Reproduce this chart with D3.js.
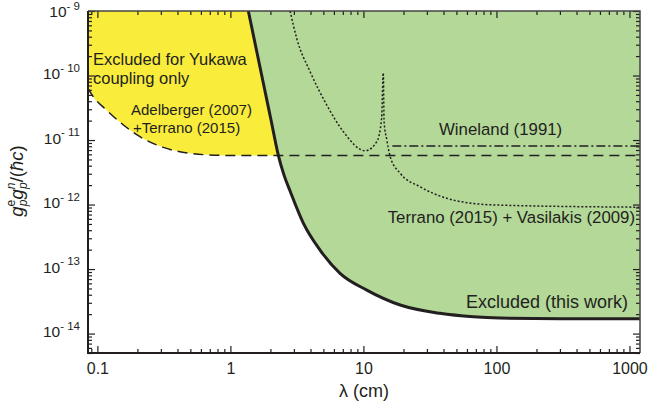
<!DOCTYPE html>
<html>
<head>
<meta charset="utf-8">
<script src="https://cdn.jsdelivr.net/npm/d3@7"></script>
<style>
  body { margin: 0; background: #fff; }
  svg { display: block; }
  text { font-family: "Liberation Sans", Arial, Helvetica, sans-serif; fill: #231f20; }
</style>
</head>
<body>
<svg id="chart" width="648" height="406"></svg>
<script>
// values: lambda in cm, coupling g_p^e g_p^n / (hbar c)
const thisWork = [
    [1.364, 1e-9], [1.558, 2.67e-10], [1.774, 7.38e-11], [2.02, 2.04e-11], [2.29, 5.85e-12],
    [2.53, 2.86e-12], [2.81, 1.62e-12], [3.54, 5.12e-13], [4.72, 1.97e-13], [6.67, 8.57e-14],
    [10.6, 4.72e-14], [18.9, 2.77e-14], [37.6, 2.06e-14], [67, 1.82e-14], [106, 1.74e-14],
    [300, 1.7e-14], [1200, 1.7e-14]
]
const adelbergerTerrano = [
    [0.085, 6.3e-11], [0.093, 4.7e-11], [0.117, 2.92e-11], [0.157, 1.71e-11], [0.209, 1.125e-11],
    [0.313, 7.7e-12], [0.497, 6.22e-12], [0.884, 5.78e-12], [1.5, 5.75e-12], [1200, 5.75e-12]
]
const terranoVasilakis = [
    [2.81, 1e-9], [3.15, 3.77e-10], [3.97, 1.15e-10], [5.3, 3.49e-11], [7.06, 1.35e-11],
    [10.3, 6.82e-12], [12.6, 9.42e-12], [13.7, 2.17e-11], [14.1, 1.1e-10], [14.3, 1.92e-11],
    [15.0, 1e-11], [15.9, 5.5e-12], [18.9, 3.05e-12], [26.6, 1.89e-12], [42.3, 1.25e-12],
    [67, 1.04e-12], [106, 9.8e-13], [1200, 9.1e-13]
]
const wineland = [[16.5, 8.1e-12], [1200, 8.1e-12]]

const xTickValues = [0.1, 1, 10, 100, 1000]
const xTickLabels = ["0.1", "1", "10", "100", "1000"]
const yTickExponents = [-9, -10, -11, -12, -13, -14]

const xDomain = [0.085, 1200]
const yDomain = [5e-15, 1e-9]

// Layout
const plot = { left: 88, right: 640, top: 11, bottom: 353 }
const yellow = "#f9ec3b"
const green = "#b3d898"
const ink = "#231f20"

const svg = d3.select("#chart")

const x = d3.scaleLog().domain(xDomain).range([plot.left, plot.right])
const y = d3.scaleLog().domain(yDomain).range([plot.bottom, plot.top])

function minorTicks(domain) {
    let out = []
    let lo = Math.floor(Math.log10(domain[0])), hi = Math.ceil(Math.log10(domain[1]))
    for (let e = lo; e <= hi; e++) {
        for (let k = 2; k < 10; k++) {
            let v = k * Math.pow(10, e)
            if (v >= domain[0] && v <= domain[1]) out.push(v)
        }
    }
    return out
}

svg.append("defs").append("clipPath").attr("id", "plot-clip")
    .append("rect")
    .attr("x", plot.left).attr("y", plot.top)
    .attr("width", plot.right - plot.left).attr("height", plot.bottom - plot.top)

const line = d3.line()
    .x(d => x(d[0]))
    .y(d => y(d[1]))
    .curve(d3.curveMonotoneX)

const g = svg.append("g").attr("clip-path", "url(#plot-clip)")

// yellow: above the torsion-pendulum bound (only up to where the green takes over)
let yellowPts = adelbergerTerrano.filter(d => d[0] <= 2.6).concat([[2.6, 5.75e-12]])
g.append("path")
    .attr("d", line(yellowPts) +
        `L${x(2.6)},${y(yDomain[1])}L${x(xDomain[0])},${y(yDomain[1])}Z`)
    .attr("fill", yellow)

// green: excluded by this work
g.append("path")
    .attr("d", line(thisWork) +
        `L${x(xDomain[1])},${y(yDomain[1])}L${x(thisWork[0][0])},${y(yDomain[1])}Z`)
    .attr("fill", green)

g.append("path")
    .attr("d", line(adelbergerTerrano))
    .attr("fill", "none").attr("stroke", ink)
    .attr("stroke-width", 1.5).attr("stroke-dasharray", "10,6")

g.append("path")
    .attr("d", line(wineland))
    .attr("fill", "none").attr("stroke", ink)
    .attr("stroke-width", 1.5).attr("stroke-dasharray", "9,3,2,3")

g.append("path")
    .attr("d", line(terranoVasilakis))
    .attr("fill", "none").attr("stroke", ink)
    .attr("stroke-width", 1.5).attr("stroke-dasharray", "2,2")

g.append("path")
    .attr("d", line(thisWork))
    .attr("fill", "none").attr("stroke", ink)
    .attr("stroke-width", 3)

// Axes, ticks pointing inward on all four sides
function styleAxis(sel) {
    sel.select(".domain").remove()
    sel.selectAll(".tick line").attr("stroke", ink).attr("stroke-width", 1.2)
}

const xMinor = minorTicks(xDomain)
const yMajor = yTickExponents.map(e => Math.pow(10, e))
const yMinor = minorTicks(yDomain)

svg.append("g").attr("transform", `translate(0,${plot.bottom})`)
    .call(d3.axisBottom(x).tickValues(xTickValues).tickSize(-7).tickPadding(10)
        .tickFormat((d, i) => xTickLabels[i]))
    .call(styleAxis)
    .call(a => a.selectAll("text").attr("font-size", 16).attr("fill", ink)
        .attr("font-family", '"Liberation Sans", Arial, sans-serif'))
svg.append("g").attr("transform", `translate(0,${plot.bottom})`)
    .call(d3.axisBottom(x).tickValues(xMinor).tickSize(-4).tickFormat(""))
    .call(styleAxis)
svg.append("g").attr("transform", `translate(0,${plot.top})`)
    .call(d3.axisTop(x).tickValues(xTickValues).tickSize(-7).tickFormat(""))
    .call(styleAxis)
svg.append("g").attr("transform", `translate(0,${plot.top})`)
    .call(d3.axisTop(x).tickValues(xMinor).tickSize(-4).tickFormat(""))
    .call(styleAxis)

svg.append("g").attr("transform", `translate(${plot.left},0)`)
    .call(d3.axisLeft(y).tickValues(yMajor).tickSize(-7).tickPadding(8).tickFormat(""))
    .call(styleAxis)
    .call(a => {
        let t = a.selectAll(".tick text")
            .attr("font-family", '"Liberation Sans", Arial, sans-serif')
            .attr("fill", ink)
            // the top label sits a little lower so it stays on the page
            .attr("y", (d, i) => i === 0 ? 2.5 : 0)
        t.append("tspan").attr("font-size", 15.5).text("10")
        t.append("tspan").attr("font-size", 11.5).attr("dy", -7.5)
            .text((d, i) => "- " + (-yTickExponents[i]))
    })
svg.append("g").attr("transform", `translate(${plot.left},0)`)
    .call(d3.axisLeft(y).tickValues(yMinor).tickSize(-4).tickFormat(""))
    .call(styleAxis)
svg.append("g").attr("transform", `translate(${plot.right},0)`)
    .call(d3.axisRight(y).tickValues(yMajor).tickSize(-7).tickFormat(""))
    .call(styleAxis)
svg.append("g").attr("transform", `translate(${plot.right},0)`)
    .call(d3.axisRight(y).tickValues(yMinor).tickSize(-4).tickFormat(""))
    .call(styleAxis)

// frame
svg.append("path")
    .attr("d", `M${plot.left},${plot.top}H${plot.right}V${plot.bottom}`)
    .attr("fill", "none").attr("stroke", "#444").attr("stroke-width", 1.5)
svg.append("path")
    .attr("d", `M${plot.left},${plot.top}V${plot.bottom}H${plot.right}`)
    .attr("fill", "none").attr("stroke", ink).attr("stroke-width", 2)

// annotations
function label(tx, ty, txt, size, anchor) {
    svg.append("text")
        .attr("x", tx).attr("y", ty)
        .attr("font-size", size)
        .attr("text-anchor", anchor || "start")
        .text(txt)
}
label(93, 65, "Excluded for Yukawa", 16.5)
label(93, 84, "coupling only", 16.5)
label(131, 114.5, "Adelberger (2007)", 15)
label(133, 133, "+Terrano (2015)", 15)
label(439, 135, "Wineland (1991)", 16.8)
label(635, 223, "Terrano (2015) + Vasilakis (2009)", 16.8, "end")
label(628, 308, "Excluded (this work)", 18, "end")

// axis titles
svg.append("text")
    .attr("x", (plot.left + plot.right) / 2).attr("y", 397)
    .attr("text-anchor", "middle").attr("font-size", 18)
    .text("λ (cm)")

let yt = svg.append("text")
    .attr("transform", `translate(23,181) rotate(-90)`)
    .attr("text-anchor", "middle").attr("font-size", 18.5)
yt.append("tspan").attr("font-style", "italic").text("g")
yt.append("tspan").attr("font-size", 12).attr("dy", -8).text("e")
yt.append("tspan").attr("font-size", 12).attr("font-style", "italic").attr("dx", -6.5).attr("dy", 12).text("p")
yt.append("tspan").attr("font-style", "italic").attr("dy", -4).text("g")
yt.append("tspan").attr("font-size", 12).attr("font-style", "italic").attr("dy", -8).text("n")
yt.append("tspan").attr("font-size", 12).attr("font-style", "italic").attr("dx", -6.5).attr("dy", 12).text("p")
yt.append("tspan").attr("dy", -4).text("/(")
yt.append("tspan").attr("font-style", "italic").text("ħc")
yt.append("tspan").text(")")
</script>
</body>
</html>
